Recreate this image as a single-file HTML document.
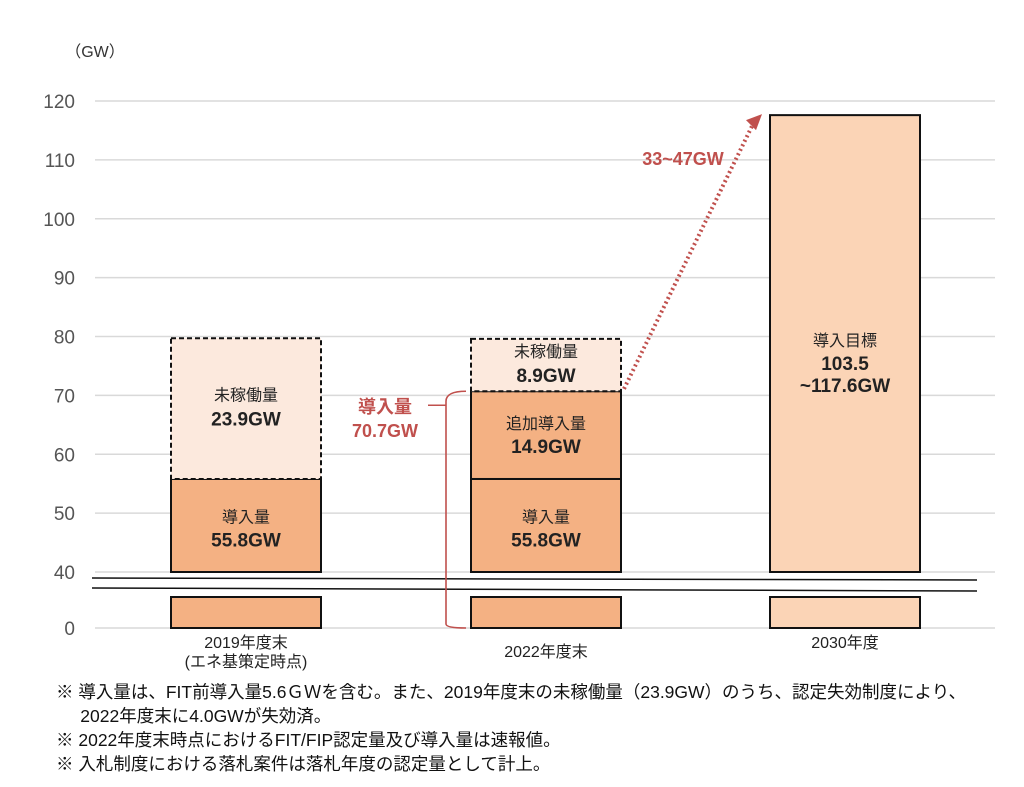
<!DOCTYPE html>
<html><head><meta charset="utf-8">
<style>
body{margin:0;background:#fff;}
svg{display:block;font-family:"Liberation Sans","Noto Sans CJK JP",sans-serif;}
.note{position:absolute;left:56px;font-family:"Liberation Sans","Noto Sans CJK JP",sans-serif;font-size:17.5px;color:#111;line-height:24px;white-space:nowrap;}
</style></head><body>
<div style="position:relative;width:1024px;height:787px;overflow:hidden">
<svg id="c" width="1024" height="787"></svg>
<div class="note" style="top:680px">
※ 導入量は、FIT前導入量5.6ＧＷを含む。また、2019年度末の未稼働量（23.9GW）のうち、認定失効制度により、<br>
&nbsp;&nbsp;&nbsp;&nbsp;&nbsp;2022年度末に4.0GWが失効済。<br>
※ 2022年度末時点におけるFIT/FIP認定量及び導入量は速報値。<br>
※ 入札制度における落札案件は落札年度の認定量として計上。</div>
</div>
<script>
const categories=["2019年度末","2022年度末","2030年度"];
const subLabels=["(エネ基策定時点)","",""];
const introduced=[55.8,55.8,0];
const added=[0,14.9,0];
const unoperated=[23.9,8.9,0];
const target=[0,0,117.6];
const yTicks=[40,50,60,70,80,90,100,110,120];
const barCenters=[246,546,845];
const NS="http://www.w3.org/2000/svg";
const svg=document.getElementById('c');
function y(v){return v>=40?572-(v-40)*5.8875:628;}
function el(t,a,p){const e=document.createElementNS(NS,t);for(const k in a)e.setAttribute(k,a[k]);(p||svg).appendChild(e);return e;}
function txt(x,yy,s,o){const e=el('text',Object.assign({x:x,y:yy,'text-anchor':'middle','font-size':16,fill:'#222'},o||{}));e.textContent=s;return e;}
yTicks.forEach(t=>{const g=el('line',{x1:95,x2:995,y1:y(t),y2:y(t),stroke:'#d9d9d9','stroke-width':1.5});


const l=txt(75,y(t)+7,String(t),{'text-anchor':'end','font-size':19,fill:'#555'});

});
el('line',{x1:95,x2:995,y1:628,y2:628,stroke:'#d9d9d9','stroke-width':1.5});
const z=txt(75,635,"0",{'text-anchor':'end','font-size':19,fill:'#555'});


const u=txt(95,57,"（GW）",{'font-size':16,fill:'#333'});


const W=150;
function rect(i,v0,v1,fill,dash,name){const x=barCenters[i]-W/2;const r=el('rect',{x:x,y:y(v1),width:W,height:y(v0)-y(v1),fill:fill,stroke:'#111','stroke-width':2});
if(dash)r.setAttribute('stroke-dasharray','5,3');


return r;}
categories.forEach((c,i)=>{
 const bot=target[i]>0?'#fbd4b6':'#f4b183';
 const b=el('rect',{x:barCenters[i]-W/2,y:597,width:W,height:31,fill:bot,stroke:'#111','stroke-width':2});
 
 
 if(introduced[i]>0){rect(i,40,introduced[i],'#f4b183',false,'bar-introduced-'+i);
  txt(barCenters[i],(y(40)+y(introduced[i]))/2-3,"導入量",{'font-size':16});
  txt(barCenters[i],(y(40)+y(introduced[i]))/2+21,introduced[i].toFixed(1)+"GW",{'font-size':19,'font-weight':'bold'});}
 let top=introduced[i];
 if(added[i]>0){rect(i,top,top+added[i],'#f4b183',false,'bar-added-'+i);
  const m=(y(top)+y(top+added[i]))/2;
  txt(barCenters[i],m-6,"追加導入量",{'font-size':16});
  txt(barCenters[i],m+18,added[i].toFixed(1)+"GW",{'font-size':19,'font-weight':'bold'});
  top+=added[i];}
 if(unoperated[i]>0){rect(i,top,top+unoperated[i],'#fce9dd',true,'bar-unoperated-'+i);
  const m=(y(top)+y(top+unoperated[i]))/2;
  txt(barCenters[i],m-8,"未稼働量",{'font-size':16});
  txt(barCenters[i],m+17,unoperated[i].toFixed(1)+"GW",{'font-size':19,'font-weight':'bold'});}
 if(target[i]>0){rect(i,40,target[i],'#fbd4b6',false,'bar-target-'+i);
  txt(barCenters[i],346,"導入目標",{'font-size':16});
  txt(barCenters[i],370,"103.5",{'font-size':19,'font-weight':'bold'});
  txt(barCenters[i],392,"~"+target[i].toFixed(1)+"GW",{'font-size':19,'font-weight':'bold'});}
 const cl=txt(barCenters[i],i==1?657:648,c,{'font-size':16});
 
 
 if(subLabels[i])txt(barCenters[i],667,subLabels[i],{'font-size':16});
});
el('polygon',{points:'92,578 977,580 977,590 92,588',fill:'#fff'});
el('line',{x1:92,y1:578,x2:977,y2:580,stroke:'#111','stroke-width':1.5});
el('line',{x1:92,y1:588,x2:977,y2:591,stroke:'#111','stroke-width':1.5});
const yb=y(introduced[1]+added[1]);
const br=el('path',{d:`M466 ${yb} Q446 ${yb} 446 ${yb+10} L446 ${624} Q446 628 466 628 M446 ${yb+14} L428 ${yb+14}`,fill:'none',stroke:'#c0504d','stroke-width':1.6});


txt(385,413,"導入量",{'font-size':18,'font-weight':'bold',fill:'#c0504d'});
txt(385,437,(introduced[1]+added[1]).toFixed(1)+"GW",{'font-size':18,'font-weight':'bold',fill:'#c0504d'});
const ax1=624,ay1=y(79.6)+50,ax2=758,ay2=y(target[2])+3;
const ar=el('line',{x1:ax1,y1:ay1,x2:ax2-6,y2:ay2+8,stroke:'#c0504d','stroke-width':4,'stroke-dasharray':'2,3'});


el('polygon',{points:`${ax2+4},${ay2-4} ${ax2-12},${ay2+2} ${ax2-2},${ay2+12}`,fill:'#c0504d'});
txt(683,165,"33~47GW",{'font-size':18,'font-weight':'bold',fill:'#c0504d'});
</script>
</body></html>
